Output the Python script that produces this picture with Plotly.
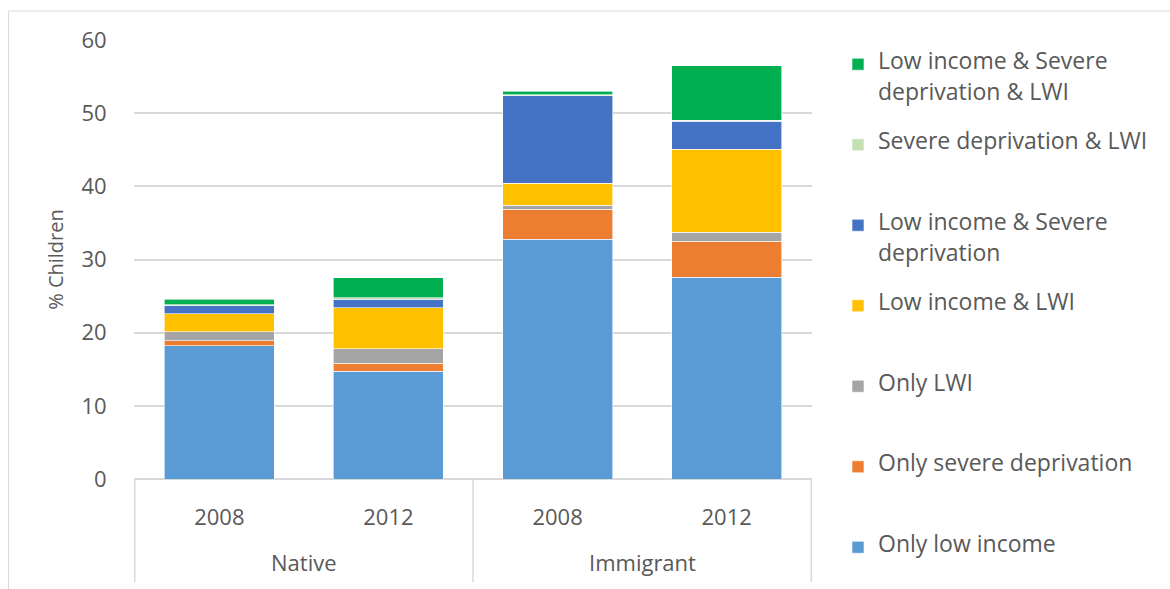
import plotly.graph_objects as go

groups = ["Native", "Native", "Immigrant", "Immigrant"]
years = ["2008", "2012", "2008", "2012"]
categories = [f"{g} {y}" for g, y in zip(groups, years)]

only_low_income = [18.2, 14.7, 32.8, 27.6]
only_severe_deprivation = [0.7, 1.1, 4.1, 4.9]
only_lwi = [1.2, 2.0, 0.5, 1.2]
low_income_lwi = [2.5, 5.6, 3.0, 11.4]
low_income_severe = [1.1, 1.2, 12.0, 3.8]
severe_lwi = [0.1, 0.2, 0.1, 0.1]
low_income_severe_lwi = [0.8, 2.7, 0.5, 7.5]

series = [
    (["Only low income"], only_low_income, "#5B9BD5"),
    (["Only severe deprivation"], only_severe_deprivation, "#ED7D31"),
    (["Only LWI"], only_lwi, "#A5A5A5"),
    (["Low income & LWI"], low_income_lwi, "#FFC000"),
    (["Low income & Severe", "deprivation"], low_income_severe, "#4472C4"),
    (["Severe deprivation & LWI"], severe_lwi, "#C5E0B4"),
    (["Low income & Severe", "deprivation & LWI"], low_income_severe_lwi, "#00B050"),
]

FONT = "Open Sans"
GREY = "#595959"
LEG_SIZE = 23          # visible legend glyph size
LEG_BASE = 15.5 / 1.3  # legend base font -> 15.5px line pitch

# plot geometry in pixels
W, H = 1170, 589
L, R = 134, 812
T, B = 40, 479


def px_x(p):
    return (p - L) / (R - L)


def px_y(p):
    return (B - p) / (B - T)


def legend_label(lines, last=False):
    spans = [f"<span style='font-size:{LEG_SIZE}px'>{t}</span>" for t in lines]
    if len(spans) == 1:
        out = [spans[0]] + ([] if last else [" "] * 4)
    else:
        out = [spans[0], " ", spans[1], " ", " "]
    return "<br>".join(out)


fig = go.Figure()
for i, (lines, vals, color) in enumerate(series):
    fig.add_trace(go.Bar(
        x=categories, y=vals, name=legend_label(lines, last=(i == 0)),
        marker=dict(color=color, line=dict(color="white", width=0.6)),
        hovertemplate=" ".join(lines) + ": %{y}<extra></extra>",
    ))

shapes = []
# category axis box lines
for xv in [-0.5, 1.5, 3.5]:
    shapes.append(dict(type="line", xref="x", yref="paper", x0=xv, x1=xv,
                       y0=0, y1=px_y(582), line=dict(color="#D9D9D9", width=1.5)))
# outer chart border (left and top)
shapes.append(dict(type="line", xref="paper", yref="paper", x0=px_x(8.5), x1=px_x(8.5),
                   y0=px_y(11), y1=px_y(600), line=dict(color="#D9D9D9", width=1)))
shapes.append(dict(type="line", xref="paper", yref="paper", x0=px_x(8.5), x1=px_x(1175),
                   y0=px_y(11), y1=px_y(11), line=dict(color="#D9D9D9", width=1)))

annotations = []
for label, xc in [("Native", 0.5), ("Immigrant", 2.5)]:
    annotations.append(dict(text=label, x=xc, xref="x", y=px_y(562), yref="paper",
                            showarrow=False, yanchor="middle",
                            font=dict(family=FONT, size=22, color=GREY)))

fig.update_layout(
    width=W, height=H,
    margin=dict(l=L, r=W - R, t=T, b=H - B, autoexpand=False),
    barmode="stack",
    bargap=0.35,
    plot_bgcolor="white",
    paper_bgcolor="white",
    font=dict(family=FONT, size=22, color=GREY),
    xaxis=dict(
        tickmode="array", tickvals=categories, ticktext=years,
        ticks="outside", ticklen=19, tickcolor="rgba(0,0,0,0)",
        tickfont=dict(family=FONT, size=22, color=GREY),
        showgrid=False, showline=False, zeroline=False,
    ),
    yaxis=dict(
        range=[0, 60], dtick=10,
        showgrid=True, gridcolor="#D9D9D9", gridwidth=1.5,
        zeroline=True, zerolinecolor="#D9D9D9", zerolinewidth=1.5,
        ticks="outside", ticklen=22, tickcolor="rgba(0,0,0,0)",
        tickfont=dict(family=FONT, size=22, color=GREY),
        title=dict(text="% Children", font=dict(family=FONT, size=20, color=GREY), standoff=12),
    ),
    legend=dict(
        x=px_x(838), xanchor="left", y=px_y(50), yanchor="top",
        traceorder="reversed", valign="top",
        font=dict(family=FONT, size=LEG_BASE, color=GREY),
        bgcolor="rgba(0,0,0,0)",
        maxheight=580,
    ),
    shapes=shapes,
    annotations=annotations,
    showlegend=True,
)

fig.write_html("out.html")
